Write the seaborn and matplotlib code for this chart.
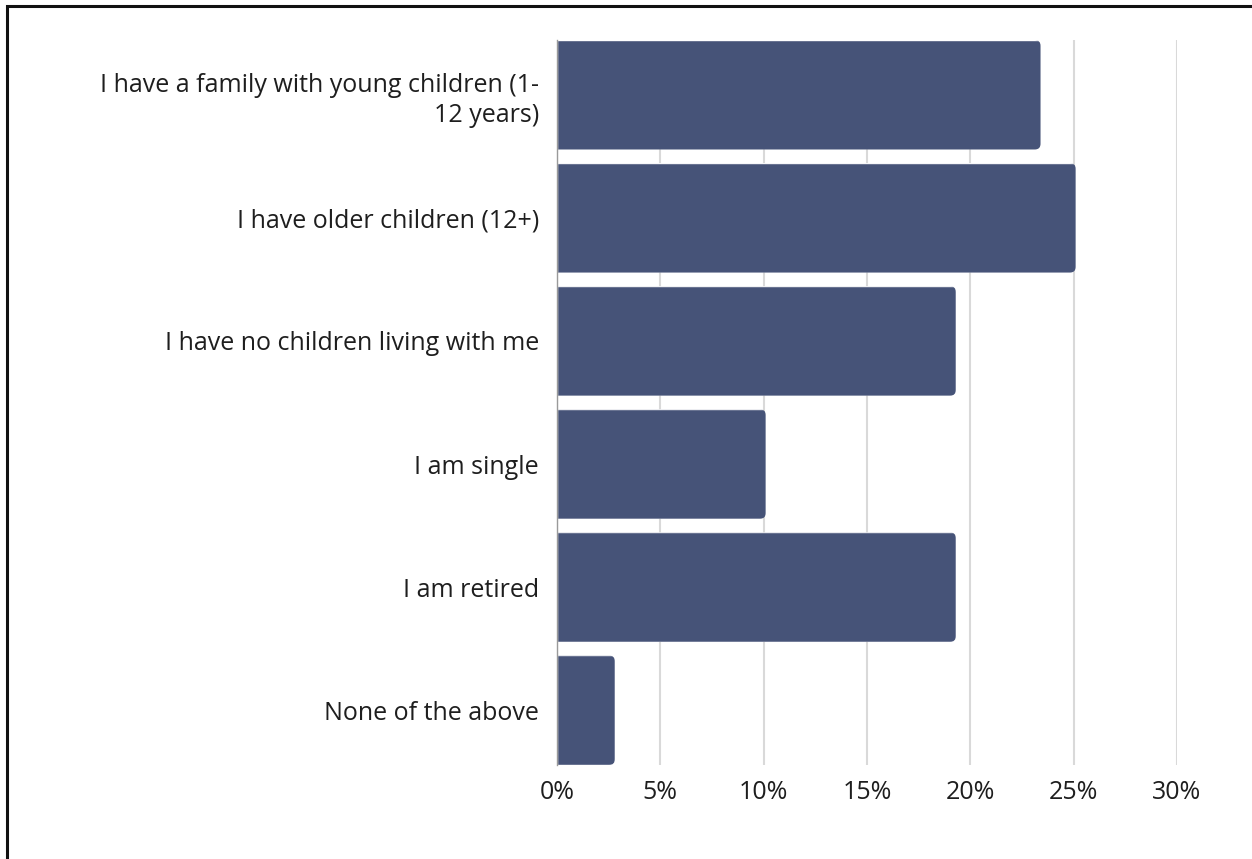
import matplotlib
matplotlib.use("Agg")
import matplotlib.pyplot as plt
import seaborn as sns
import pandas as pd
from matplotlib.patches import FancyBboxPatch, Rectangle
from matplotlib.ticker import FuncFormatter

categories = [
    "I have a family with young children (1-\n12 years)",
    "I have older children (12+)",
    "I have no children living with me",
    "I am single",
    "I am retired",
    "None of the above",
]
shares = [23.4, 25.1, 19.3, 10.1, 19.3, 2.8]
x_ticks = [0, 5, 10, 15, 20, 25, 30]

bar_color = "#465378"
text_color = "#1e1e1e"
grid_color = "#d9d9d9"

sns.set_theme(style="white")
plt.rcParams["font.family"] = ["Open Sans", "DejaVu Sans"]

df = pd.DataFrame({"group": categories, "share": shares})

W, H, DPI = 1252, 859, 100
fig = plt.figure(figsize=(W / DPI, H / DPI), dpi=DPI)
ax = fig.add_axes([557 / W, 1 - 765 / H, (1177 - 557) / W, (765 - 40) / H])

sns.barplot(data=df, x="share", y="group", orient="h", color=bar_color,
            saturation=1, width=0.89, ax=ax, zorder=3)

ax.set_xlim(0, 30)
ax.set_ylim(5.445, -0.445)
ax.set_xticks(x_ticks)
ax.xaxis.set_major_formatter(FuncFormatter(lambda v, _: f"{v:.0f}%"))
ax.set_xlabel("")
ax.set_ylabel("")

ax.grid(axis="x", color=grid_color, linewidth=1.5, zorder=0)
ax.grid(axis="y", visible=False)
for side in ["top", "right", "bottom"]:
    ax.spines[side].set_visible(False)
ax.spines["left"].set_color("#9a9a9a")
ax.spines["left"].set_linewidth(1.0)
ax.spines["left"].set_zorder(4)

ax.tick_params(axis="x", length=0, pad=11, labelsize=18, labelcolor=text_color)
ax.tick_params(axis="y", length=0, pad=13, labelsize=18, labelcolor=text_color)
for lbl in ax.get_yticklabels():
    lbl.set_linespacing(1.3)

# rounded right-hand corners on each bar
fig.canvas.draw()
px_x = ax.transData.transform((1, 0))[0] - ax.transData.transform((0, 0))[0]
px_y = abs(ax.transData.transform((0, 1))[1] - ax.transData.transform((0, 0))[1])
radius_px = 6
for bar in ax.patches:
    x0, y0 = bar.get_x(), bar.get_y()
    w, h = bar.get_width(), bar.get_height()
    extra = 2.0
    clip = FancyBboxPatch((x0 - extra, y0), w + extra, h,
                          boxstyle=f"round,pad=0,rounding_size={radius_px / px_x}",
                          mutation_aspect=px_x / px_y,
                          transform=ax.transData, facecolor="none", edgecolor="none")
    bar.set_clip_path(clip)

# outer frame
fig.add_artist(Rectangle((7 / W, -0.05), 1.1, 1 - 6 / H + 0.05,
                         transform=fig.transFigure, fill=False,
                         edgecolor="#111111", linewidth=2.2))

fig.savefig("out.png", dpi=DPI, facecolor="white")
